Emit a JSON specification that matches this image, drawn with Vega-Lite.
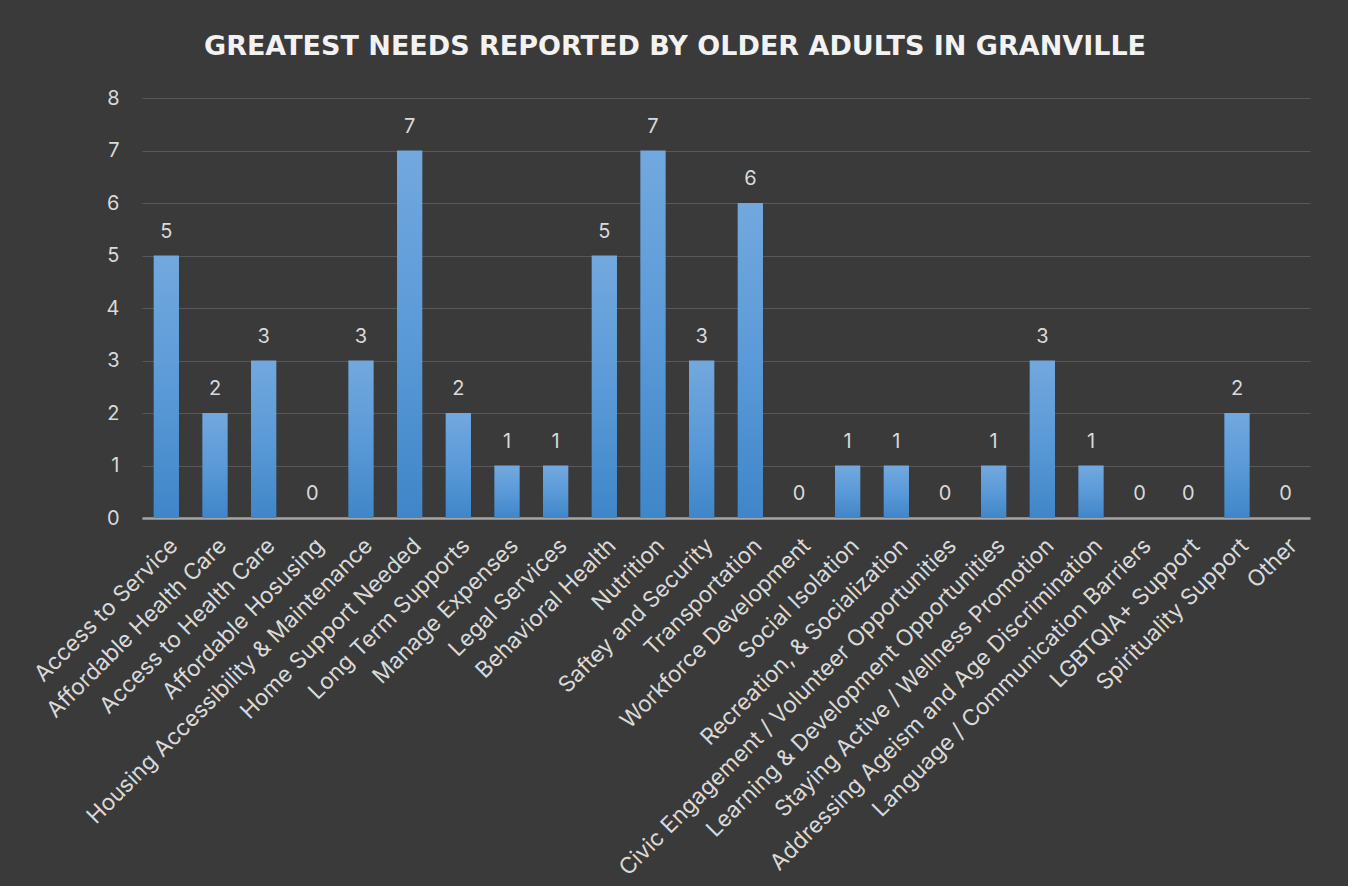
{
  "$schema": "https://vega.github.io/schema/vega-lite/v6.json",
  "autosize": {"type": "none"},
  "width": 1168,
  "height": 420,
  "padding": {"left": 142, "top": 98, "right": 38, "bottom": 368},
  "background": "#3a3a3a",
  "title": {
    "text": "GREATEST NEEDS REPORTED BY OLDER ADULTS IN GRANVILLE",
    "font": "DejaVu Sans",
    "fontSize": 27,
    "fontWeight": "bold",
    "color": "#f2f2f2",
    "anchor": "middle",
    "frame": "group",
    "dx": -51,
    "offset": 27
  },
  "data": {
    "values": [
      {"need": "Access to Service", "count": 5},
      {"need": "Affordable Health Care", "count": 2},
      {"need": "Access to Health Care", "count": 3},
      {"need": "Affordable Hosusing", "count": 0},
      {"need": "Housing Accessibility & Maintenance", "count": 3},
      {"need": "Home Support Needed", "count": 7},
      {"need": "Long Term Supports", "count": 2},
      {"need": "Manage Expenses", "count": 1},
      {"need": "Legal Services", "count": 1},
      {"need": "Behavioral Health", "count": 5},
      {"need": "Nutrition", "count": 7},
      {"need": "Saftey and Security", "count": 3},
      {"need": "Transportation", "count": 6},
      {"need": "Workforce Development", "count": 0},
      {"need": "Social Isolation", "count": 1},
      {"need": "Recreation, & Socialization", "count": 1},
      {"need": "Civic Engagement / Volunteer Opportunities", "count": 0},
      {"need": "Learning & Development Opportunities", "count": 1},
      {"need": "Staying Active / Wellness Promotion", "count": 3},
      {"need": "Addressing Ageism and Age Discrimination", "count": 1},
      {"need": "Language / Communication Barriers", "count": 0},
      {"need": "LGBTQIA+ Support", "count": 0},
      {"need": "Spirituality Support", "count": 2},
      {"need": "Other", "count": 0}
    ]
  },
  "encoding": {
    "x": {
      "field": "need",
      "type": "nominal",
      "sort": null,
      "scale": {"paddingInner": 0.48, "paddingOuter": 0.24},
      "axis": {
        "title": null,
        "labelAngle": -45,
        "labelFont": "Inter",
        "labelFontSize": 22.5,
        "labelColor": "#d9d9d9",
        "labelPadding": 16,
        "labelLimit": 700,
        "ticks": false,
        "domainColor": "#a6a6a6",
        "domainWidth": 2.5
      }
    },
    "y": {
      "field": "count",
      "type": "quantitative",
      "scale": {"domain": [0, 8]},
      "axis": {
        "title": null,
        "values": [0, 1, 2, 3, 4, 5, 6, 7, 8],
        "labelFont": "Inter",
        "labelFontSize": 20,
        "labelColor": "#d9d9d9",
        "labelPadding": 23,
        "domain": false,
        "ticks": false,
        "grid": true,
        "gridColor": "#585858",
        "gridWidth": 1
      }
    }
  },
  "layer": [
    {
      "mark": {
        "type": "bar",
        "color": {
          "gradient": "linear",
          "x1": 0, "y1": 0, "x2": 0, "y2": 1,
          "stops": [
            {"offset": 0, "color": "#72a8de"},
            {"offset": 0.5, "color": "#5b9ad8"},
            {"offset": 1, "color": "#3f86c8"}
          ]
        }
      }
    },
    {
      "mark": {
        "type": "text",
        "font": "Inter",
        "fontSize": 20,
        "color": "#d9d9d9",
        "baseline": "alphabetic",
        "dy": -18
      },
      "encoding": {"text": {"field": "count", "type": "quantitative"}}
    }
  ],
  "config": {"view": {"stroke": null}}
}
